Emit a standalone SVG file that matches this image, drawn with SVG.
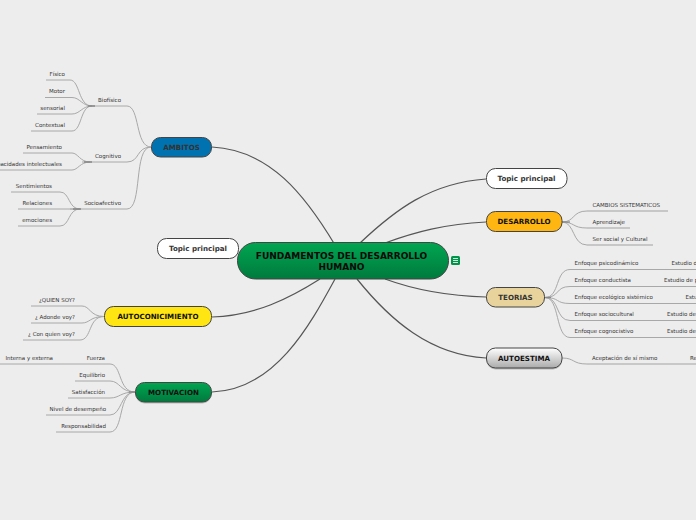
<svg xmlns="http://www.w3.org/2000/svg" width="696" height="520" viewBox="0 0 696 520">
<style>
text{font-family:"DejaVu Sans",Verdana,sans-serif}
.t{font-size:5.5px;fill:#333;text-anchor:start}
.e{font-size:5.5px;fill:#333;text-anchor:end}
.m{font-size:7.1px;font-weight:bold;fill:#111;text-anchor:middle}
.c{font-size:9px;font-weight:bold;fill:#0a0a0a;text-anchor:middle}
.n{stroke:#444;stroke-width:1}
.s{fill:#999;opacity:.6}
.main{fill:none;stroke:#555;stroke-width:1.200}
.leaf{fill:none;stroke:#a8a8a8;stroke-width:1}
.soft{fill:none;stroke:#bbb;stroke-width:1.300}
.stub{fill:none;stroke:#888;stroke-width:1.300}
</style>
<defs>
<linearGradient id="gc" x1="0" y1="0" x2="0" y2="1"><stop offset="0" stop-color="#00a651"/><stop offset="1" stop-color="#007a3d"/></linearGradient>
<linearGradient id="gw" x1="0" y1="0" x2="0" y2="1"><stop offset="0" stop-color="#fff"/><stop offset="1" stop-color="#aaa"/></linearGradient>
</defs>
<rect width="696" height="520" fill="#ededed"/>
<g id="connectors">
<path class="main" d="M212 147C270 150 305 195 335 245"/>
<path class="main" d="M486 179C430 183 395 210 360 243"/>
<path class="main" d="M486 222C445 224 415 232 385 243"/>
<path class="main" d="M486 297C450 296 415 290 385 279"/>
<path class="main" d="M486 358C430 355 390 320 357 279"/>
<path class="main" d="M212 317C255 316 290 298 320 279"/>
<path class="main" d="M212 392C275 390 310 325 335 279"/>
<path class="leaf" d="M127 106C140 106 135 147 151 147M88 106H127M127 162C140 162 136 147 151 147M82 162H127M127 209C143 209 133 147 151 147M70 209H127"/>
<path class="leaf" d="M46 80H70C80 80 78 106 92 106M45 97.500H72C80 97.500 82 106 92 106M37 114H72C80 114 82 106 92 106M31 131H72C82 131 80 106 92 106"/>
<path class="leaf" d="M23 153H72C78 153 80 162 90 162M0 170H72C78 170 80 162 90 162"/>
<path class="leaf" d="M11 192H60C70 192 68 209 80 209M18 209H80M18 226H60C70 226 68 209 80 209"/>
<path class="stub" d="M88 106H95M84 162H92M73 209H81"/>
<path class="leaf" d="M31 306H82C90 306 90 316.500 104 316.500M31 323H82C90 323 90 316.500 104 316.500M23 340H80C92 340 88 316.500 104 316.500"/>
<path class="leaf" d="M0 364H110C122 364 118 392 135 392M75 381H110C120 381 120 392 135 392M68 398H110C120 398 120 392 135 392M46 415H110C122 415 120 392 135 392M56 432H110C124 432 118 392 135 392"/>
<path class="stub" d="M129 392H135"/>
<path class="leaf" d="M562 222C575 222 572 211 587 211M562 222C575 222 572 228 587 228M562 222C575 222 572 245 587 245"/>
<path class="soft" d="M587 211H668M587 228H630M587 245H653"/>
<path class="stub" d="M562 222H570"/>
<path class="leaf" d="M545 297.500C560 297.500 555 269.500 570 269.500H696M545 297.500C560 297.500 555 286.500 570 286.500H696M545 297.500C560 297.500 555 303.500 570 303.500H696M545 297.500C560 297.500 555 320.500 570 320.500H696M545 297.500C560 297.500 555 337.500 570 337.500H696"/>
<path class="stub" d="M545 297.500H551"/>
<path class="leaf" d="M562 358C575 358 572 364 587 364"/>
<path class="soft" d="M587 364H696"/>
</g>
<g id="central"><rect class="n" x="237.500" y="242.500" width="211" height="36.500" rx="18" fill="url(#gc)" stroke="#00a651"/><text class="c" x="341.500" y="259">FUNDAMENTOS DEL DESARROLLO</text><text class="c" x="341.500" y="270">HUMANO</text></g>
<g id="icon"><rect x="451" y="256" width="9" height="9" rx="1.500" fill="#00934a"/><path d="M453 258.500h5M453 260.500h5M453 262.500h5" stroke="#fff" stroke-width="0.800"/></g>
<g id="ambitos"><rect class="n" x="151.500" y="137.500" width="60" height="19.500" rx="9" fill="#0072b0"/><text class="m" x="181.500" y="150" style="fill:#333">AMBITOS</text></g>
<g id="topic-right"><rect class="n" x="486.500" y="168.500" width="80.500" height="20" rx="9" fill="#fff"/><text class="m" x="526.500" y="181" style="fill:#333">Topic principal</text></g>
<g id="topic-left"><rect class="n" x="157.500" y="238.500" width="81" height="20" rx="9" fill="#fff"/><text class="m" x="198" y="251" style="fill:#333">Topic principal</text></g>
<g id="desarrollo"><rect class="n" x="486.500" y="211.500" width="75.500" height="20" rx="9" fill="#ffb612"/><text class="m" x="524" y="224">DESARROLLO</text></g>
<g id="teorias"><rect class="n" x="486.500" y="287.500" width="58" height="19.500" rx="9" fill="#e8d39c"/><text class="m" x="515.500" y="300" style="fill:#333">TEORIAS</text></g>
<g id="autoestima"><rect class="s" x="486.500" y="349.500" width="75.500" height="20" rx="9"/><rect class="n" x="486.500" y="348" width="75.500" height="20" rx="9" fill="url(#gw)"/><text class="m" x="524" y="360.500">AUTOESTIMA</text></g>
<g id="autoconicimiento"><rect class="n" x="104.500" y="306.500" width="107" height="20" rx="9" fill="#ffe512"/><text class="m" x="158" y="319">AUTOCONICIMIENTO</text></g>
<g id="motivacion"><rect class="s" x="135.500" y="384" width="76" height="19.500" rx="9"/><rect class="n" x="135.500" y="382.500" width="76" height="19.500" rx="9" fill="url(#gc)"/><text class="m" x="173.500" y="395">MOTIVACION</text></g>
<g id="leaves-ambitos">
<text class="e" x="121" y="102">Biofísico</text><text class="e" x="121" y="158">Cognitivo</text><text class="e" x="121" y="205">Socioafectivo</text>
<text class="e" x="65" y="76">Físico</text><text class="e" x="65" y="93">Motor</text><text class="e" x="65" y="110">sensorial</text><text class="e" x="65" y="127">Contextual</text>
<text class="e" x="62" y="149">Pensamiento</text><text class="e" x="62" y="166">Capacidades intelectuales</text>
<text class="e" x="52" y="188">Sentimientos</text><text class="e" x="52" y="205">Relaciones</text><text class="e" x="52" y="222">emociones</text>
</g>
<g id="leaves-auto">
<text class="e" x="75" y="302">¿QUIEN SOY?</text><text class="e" x="75" y="319">¿ Adonde voy?</text><text class="e" x="75" y="336">¿ Con quien voy?</text>
</g>
<g id="leaves-motivacion">
<text class="e" x="105" y="360">Fuerza</text><text class="e" x="53" y="360">Interna y externa</text><text class="e" x="105" y="377">Equilibrio</text><text class="e" x="105" y="394">Satisfacción</text><text class="e" x="106" y="411">Nivel de desempeño</text><text class="e" x="106" y="428">Responsabilidad</text>
</g>
<g id="leaves-desarrollo">
<text class="t" x="592.500" y="207">CAMBIOS SISTEMATICOS</text><text class="t" x="592.500" y="224">Aprendizaje</text><text class="t" x="592.500" y="241">Ser social y Cultural</text>
</g>
<g id="leaves-teorias">
<text class="t" x="574.500" y="265">Enfoque psicodinámico</text><text class="t" x="671.500" y="265">Estudio de</text>
<text class="t" x="574.500" y="282">Enfoque conductista</text><text class="t" x="664" y="282">Estudio de p</text>
<text class="t" x="574.500" y="299">Enfoque ecológico sistémico</text><text class="t" x="685.500" y="299">Estudio</text>
<text class="t" x="574.500" y="316">Enfoque sociocultural</text><text class="t" x="667" y="316">Estudio de</text>
<text class="t" x="574.500" y="333">Enfoque cognocistivo</text><text class="t" x="667" y="333">Estudio de</text>
<text class="t" x="592" y="360">Aceptación de sí mismo</text><text class="t" x="690" y="360">Re</text>
</g>
</svg>
